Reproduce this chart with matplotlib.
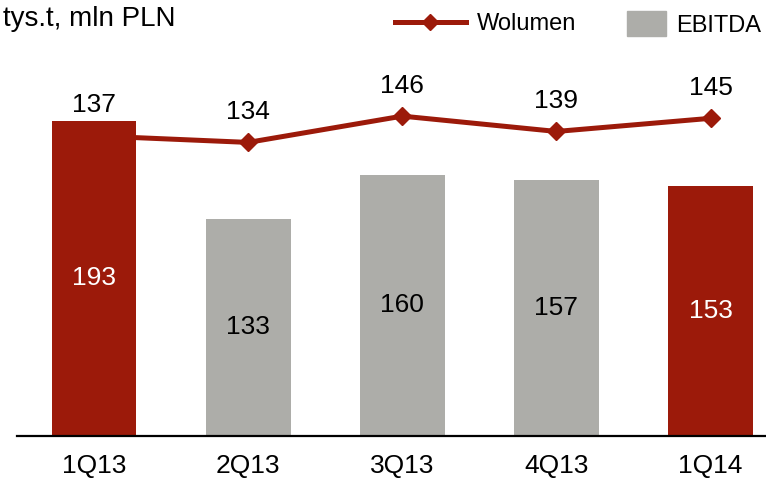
import matplotlib.pyplot as plt
from matplotlib.lines import Line2D
from matplotlib.patches import Patch

quarters = ['1Q13', '2Q13', '3Q13', '4Q13', '1Q14']
ebitda = [193, 133, 160, 157, 153]
wolumen = [137, 134, 146, 139, 145]

red = '#9C1A0A'
gray = '#ADADA9'
bar_colors = [red, gray, gray, gray, red]
label_colors = ['white', 'black', 'black', 'black', 'white']

plt.rcParams['font.family'] = ['Liberation Sans Narrow', 'Liberation Sans', 'DejaVu Sans']

fig = plt.figure(figsize=(7.66, 4.92), dpi=100)
ax = fig.add_axes([17 / 766, 56 / 492, 749 / 766, 436 / 492])
ax2 = ax.twinx()

x = list(range(len(quarters)))

# line sits behind the bars
ax2.plot(x, wolumen, color=red, lw=3.6, marker='D', markersize=9, zorder=1)
for xi, v in zip(x, wolumen):
    ax2.annotate(str(v), (xi, v), xytext=(0, 22), textcoords='offset points',
                 ha='center', va='center', fontsize=19)
ax2.set_ylim(0, 199)

ax.set_zorder(ax2.get_zorder() + 1)
ax.patch.set_visible(False)
ax.bar(x, ebitda, width=0.55, color=bar_colors)
for xi, v, c in zip(x, ebitda, label_colors):
    ax.text(xi, v / 2, str(v), ha='center', va='center', fontsize=19, color=c)
ax.set_ylim(0, 267)
ax.set_xlim(-0.5, 4.36)

for a in (ax, ax2):
    for s in ['top', 'right', 'left']:
        a.spines[s].set_visible(False)
    a.set_yticks([])
ax2.spines['bottom'].set_visible(False)
ax.spines['bottom'].set_linewidth(1.6)
ax.set_xticks(x)
ax.set_xticklabels(quarters, fontsize=19)
ax.tick_params(axis='x', length=0, pad=13)

fig.text(0.004, 0.962, 'tys.t, mln PLN', fontsize=20, va='center', ha='left')

leg_kw = dict(loc='center left', frameon=False, fontsize=17, borderpad=0,
              borderaxespad=0, handletextpad=0.45)
fig.legend([Line2D([], [], color=red, lw=3.6, marker='D', markersize=8)], ['Wolumen'],
           bbox_to_anchor=(395 / 766, 1 - 24 / 492), handlelength=3.0, **leg_kw)
fig.legend([Patch(color=gray)], ['EBITDA'], bbox_to_anchor=(627 / 766, 1 - 24 / 492),
           handlelength=1.65, handleheight=1.2, **leg_kw)

fig.savefig('out.png', dpi=100)
